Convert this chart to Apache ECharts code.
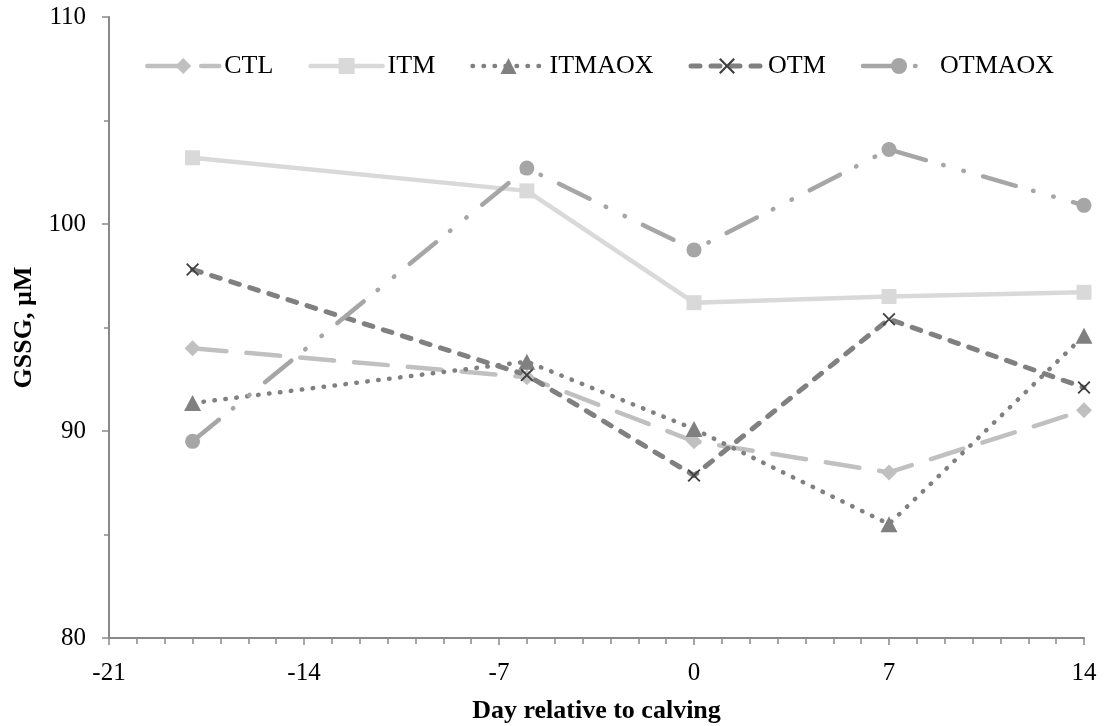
<!DOCTYPE html>
<html>
<head>
<meta charset="utf-8">
<script src="https://cdn.jsdelivr.net/npm/echarts@6/dist/echarts.min.js"></script>
<style>
  html, body { margin: 0; padding: 0; background: #fff; }
  #chart { width: 1105px; height: 726px; }
</style>
</head>
<body>
<div id="chart"></div>
<script>
// Sampling days relative to calving
const days = [-18, -6, 0, 7, 14];

// GSSG concentration (µM) per treatment group
const seriesNames = ['CTL', 'ITM', 'ITMAOX', 'OTM', 'OTMAOX'];
const ctl    = [94.0, 92.6, 89.5, 88.0, 91.0];
const itm    = [103.2, 101.6, 96.2, 96.5, 96.7];
const itmaox = [91.35, 93.35, 90.1, 85.5, 94.6];
const otm    = [97.8, 92.7, 87.85, 95.4, 92.1];
const otmaox = [89.5, 102.7, 98.75, 103.6, 100.9];

// Axis ranges and tick spacing
const xMin = -21, xMax = 14, xStep = 7;
const yMin = 80, yMax = 110, yStep = 10;

const FONT = "'Liberation Serif', 'Times New Roman', serif";
const AXIS_GREY = '#898989';

const pair = vals => days.map((d, i) => [d, vals[i]]);

// Filled "x" glyph used as the OTM marker
const CROSS = 'path://M0,1L1,0L5,4L9,0L10,1L6,5L10,9L9,10L5,6L1,10L0,9L4,5Z';

const styles = {
  CTL:    { color: '#c0c0c0', symbol: 'diamond',  size: 16, dash: [34, 20] },
  ITM:    { color: '#d9d9d9', symbol: 'rect',     size: 15, dash: 'solid' },
  ITMAOX: { color: '#808080', symbol: 'triangle', size: [17, 16], dash: [0.5, 10.5] },
  OTM:    { color: '#808080', symbol: CROSS,      size: 13, dash: [9, 11], marker: '#404040', width: 5 },
  OTMAOX: { color: '#a6a6a6', symbol: 'circle',   size: 15, dash: [34, 18, 0.5, 20.5, 0.5, 20] }
};

const values = { CTL: ctl, ITM: itm, ITMAOX: itmaox, OTM: otm, OTMAOX: otmaox };

const series = seriesNames.map(name => {
  const s = styles[name];
  return {
    name: name,
    type: 'line',
    data: pair(values[name]),
    symbol: s.symbol,
    symbolSize: s.size,
    showSymbol: true,
    animation: false,
    itemStyle: { color: s.marker || s.color, opacity: 1 },
    lineStyle: {
      color: s.color,
      width: s.width || 4.5,
      type: s.dash,
      cap: 'round',
      join: 'round'
    },
    emphasis: { disabled: true }
  };
});

const chart = echarts.init(document.getElementById('chart'), null, { renderer: 'canvas' });

chart.setOption({
  backgroundColor: '#ffffff',
  animation: false,
  grid: { left: 109, right: 21, top: 17, bottom: 88, containLabel: false, outerBoundsMode: 'none' },
  legend: {
    data: seriesNames,
    left: 140,
    top: 48,
    itemWidth: 72,
    itemHeight: 20,
    itemGap: 35,
    lineStyle: { width: 'inherit', type: 'inherit', cap: 'round' },
    textStyle: { fontFamily: FONT, fontSize: 26, color: '#000' }
  },
  xAxis: {
    type: 'value',
    min: xMin,
    max: xMax,
    interval: xStep,
    name: 'Day relative to calving',
    nameLocation: 'middle',
    nameGap: 60,
    nameTextStyle: { fontFamily: FONT, fontSize: 26, fontWeight: 'bold', color: '#000' },
    axisLine: { show: true, onZero: false, lineStyle: { color: AXIS_GREY, width: 2 } },
    axisTick: { show: true, inside: false, length: 7, lineStyle: { color: AXIS_GREY, width: 1.5 } },
    minorTick: { show: true, splitNumber: 7, length: 6, lineStyle: { color: AXIS_GREY, width: 1.5 } },
    axisLabel: { fontFamily: FONT, fontSize: 25, color: '#000', margin: 23 },
    splitLine: { show: false }
  },
  yAxis: {
    type: 'value',
    min: yMin,
    max: yMax,
    interval: yStep,
    name: 'GSSG, µM',
    nameLocation: 'middle',
    nameRotate: 90,
    nameGap: 70,
    nameTextStyle: { fontFamily: FONT, fontSize: 26, fontWeight: 'bold', color: '#000' },
    axisLine: { show: true, onZero: false, lineStyle: { color: AXIS_GREY, width: 2 } },
    axisTick: { show: true, inside: false, length: 7, lineStyle: { color: AXIS_GREY, width: 1.5 } },
    minorTick: { show: true, splitNumber: 2, length: 5, lineStyle: { color: AXIS_GREY, width: 1.5 } },
    axisLabel: { fontFamily: FONT, fontSize: 25, color: '#000', margin: 23 },
    splitLine: { show: false }
  },
  series: series
});
</script>
</body>
</html>
